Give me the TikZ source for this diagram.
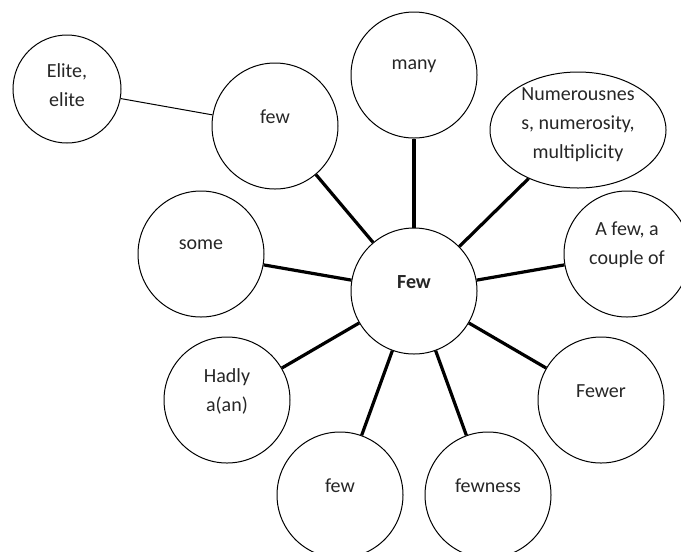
\documentclass[tikz,border=0pt]{standalone}
\usepackage{fontspec}
\setmainfont{Carlito}
\usetikzlibrary{shapes.geometric}
\begin{document}
\begin{tikzpicture}
    [
    x=0.75pt,y=-0.75pt,
    bubble/.style={circle,draw,line width=0.75pt,inner sep=0pt,minimum size=94.5pt},
    oval/.style={ellipse,draw,line width=0.75pt,inner sep=0pt,minimum width=132pt,minimum height=87pt},
    word/.style={yshift=6.75pt,align=center,text=black!85,font=\fontsize{15}{21.75}\selectfont},
    spoke/.style={line width=2.4pt},
    twig/.style={line width=0.75pt}
    ]
    \clip (0,0) rectangle (681,551);
    \node (core) at (414,291) [bubble,label={[word]center:\textbf{Few}}] {};
    \node (many) at (414,75) [bubble,label={[word]center:many}] {};
    \node (numer) at (578,130) [oval,label={[word,yshift=-3pt]center:Numerousnes\\s, numerosity,\\multiplicity}] {};
    \node (afew) at (627,254) [bubble,label={[word]center:A few, a\\couple of}] {};
    \node (fewer) at (601,400) [bubble,label={[word]center:Fewer}] {};
    \node (fewness) at (488,495) [bubble,label={[word]center:fewness}] {};
    \node (few2) at (340,495) [bubble,label={[word]center:few}] {};
    \node (hadly) at (227,400) [bubble,label={[word]center:Hadly\\a(an)}] {};
    \node (some) at (201,254) [bubble,label={[word]center:some}] {};
    \node (few1) at (275,126) [bubble,label={[word]center:few}] {};
    \node (elite) at (67,89) [bubble,minimum size=81pt,label={[word,yshift=-4pt]center:Elite,\\elite}] {};
    \draw [spoke] (core) to (many);
    \draw [spoke] (core) to (numer);
    \draw [spoke] (core) to (afew);
    \draw [spoke] (core) to (fewer);
    \draw [spoke] (core) to (fewness);
    \draw [spoke] (core) to (few2);
    \draw [spoke] (core) to (hadly);
    \draw [spoke] (core) to (some);
    \draw [spoke] (core) to (few1);
    \draw [twig] (elite) to (few1);
  \end{tikzpicture}
\end{document}
